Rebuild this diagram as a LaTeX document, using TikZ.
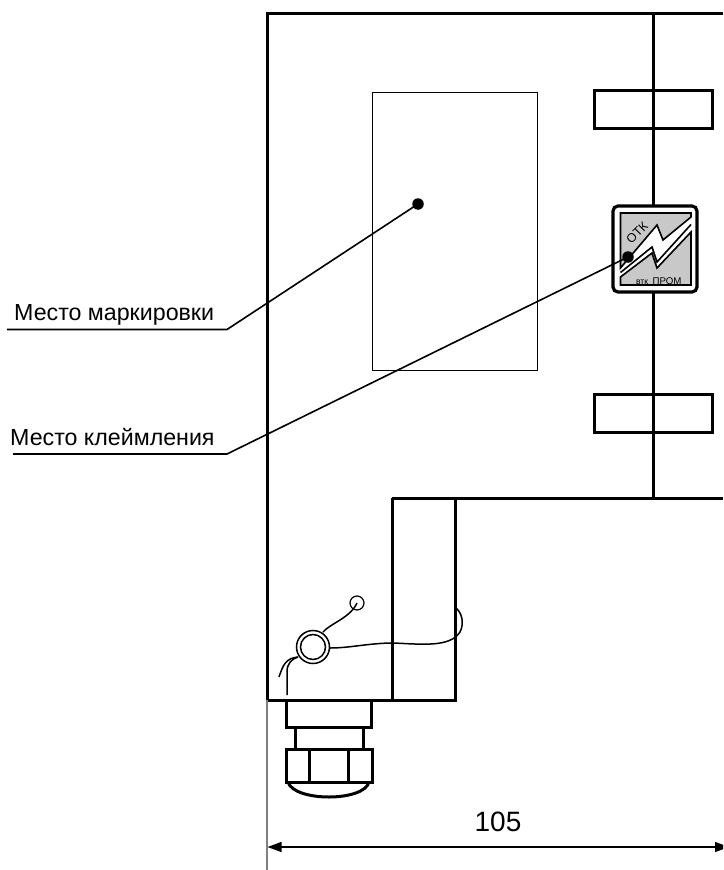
\documentclass[tikz,border=0pt]{standalone}
\usepackage{fontspec}
\setmainfont{Liberation Sans}
\usetikzlibrary{arrows.meta}
\definecolor{extgray}{HTML}{808080}
\definecolor{stampgray}{HTML}{C8C8C8}
\tikzset{
  thick line/.style={draw=black,line width=3pt,line join=miter},
  thin frame/.style={draw=black,line width=0.8pt},
  leader/.style={draw=black,line width=1.6pt},
  wire/.style={draw=black,line width=1.5pt},
  extension/.style={draw=extgray,line width=1.6pt},
  dim/.style={draw=black,line width=1.2pt,{Stealth[length=14pt,width=10pt,inset=0pt]}-{Stealth[length=14pt,width=10pt,inset=0pt]}},
  dotmark/.style={circle,fill=black,inner sep=0pt,minimum size=11.5pt},
  labeltext/.style={anchor=base west,inner sep=0pt,font=\fontsize{23.2}{27}\selectfont},
  stampedge/.style={draw=black,line width=1.6pt,line join=miter},
}
\begin{document}
\begin{tikzpicture}[x=1pt,y=-1pt]
\useasboundingbox (0,0) rectangle (723,870);
\clip (0,0) rectangle (723,870);
\fill[white] (0,0) rectangle (723,870);
% body
\draw[thick line] (723,13) -- (267,13) -- (267,700) -- (455,700) -- (455,498);
\draw[thick line] (653,13) -- (653,498);
\draw[thick line] (392,700) -- (392,498);
\draw[thick line] (392,498) -- (723,498);
% marking area
\draw[thin frame] (372,92) rectangle (537,370);
% brackets
\draw[thick line] (594,90) rectangle (712,128);
\draw[thick line] (594,394) rectangle (712,432);
% stamp
\draw[draw=black,line width=3.2pt,fill=white,rounded corners=5pt] (613,206) rectangle (697,292);
\path[stampedge,fill=stampgray] (620.5,213) -- (691,213) -- (691,217) -- (663,240) -- (657,225) -- (620.5,268) -- cycle;
\path[stampedge,fill=stampgray] (691,232) -- (691,285) -- (620.5,285) -- (620.5,277) -- (652,253) -- (657,268) -- cycle;
\draw[stampedge] (620.5,272.5) -- (652,247) -- (657,262) -- (691,224.5);
\node[inner sep=0pt,rotate=45,font=\fontsize{12.5}{14}\selectfont] (otk) at (637,233) {ОТК};
\node[inner sep=0pt,font=\fontsize{8.5}{10}\selectfont] (vtk) at (642,282) {втк};
\node[inner sep=0pt,font=\fontsize{9.7}{11}\selectfont] (prom) at (667,281) {ПРОМ};
% gland
\draw[thick line] (286,700) rectangle (371,727);
\draw[thick line] (295,727) rectangle (363,749);
\draw[thick line] (286,749) rectangle (372,782);
\draw[thick line] (309,749) -- (309,782);
\draw[thick line] (348,749) -- (348,782);
\draw[thick line] (288,782) .. controls (294,802) and (364,802) .. (369,782);
% seal
\node[circle,draw=black,line width=1.5pt,fill=white,minimum size=33pt,inner sep=0pt] (ring) at (313,647) {};
\node[circle,draw=black,line width=1.5pt,minimum size=25pt,inner sep=0pt] (ringin) at (313,647) {};
\node[circle,draw=black,line width=1.2pt,minimum size=14pt,inner sep=0pt] (seal) at (357,603) {};
\coordinate (w1) at (357,603);
\coordinate (w2) at (323,632);
\coordinate (w3) at (330,648);
\coordinate (w4) at (456,608);
\coordinate (w5) at (298,657);
\coordinate (w6) at (279,677);
\coordinate (w7) at (287,695);
\draw[wire] (w1) .. controls (350,618) and (331,623) .. (w2);
\draw[wire] (w3) .. controls (350,648) and (370,643) .. (393,643) .. controls (420,644) and (450,648) .. (460,632) .. controls (465,622) and (461,612) .. (w4);
\draw[wire] (w5) .. controls (286,658) and (283,665) .. (w6);
\draw[wire] (w7) -- (287,672) .. controls (287,663) and (292,659) .. (w5);
% extension lines and dimension
\coordinate (extA) at (267,700);
\coordinate (extB) at (267,871);
\coordinate (dimA) at (267.5,847);
\coordinate (dimB) at (729,847);
\draw[extension] (extA) -- (extB);
\draw[dim] (dimA) -- (dimB);
\node[inner sep=0pt,anchor=base,font=\fontsize{28}{32}\selectfont] (dimlabel) at (498,831) {105};
% labels with leaders
\node[labeltext] (lab1) at (14,320) {Место маркировки};
\node[labeltext] (lab2) at (10,445) {Место клеймления};
\node[dotmark] (dot1) at (418,204) {};
\node[dotmark] (dot2) at (628,257) {};
\coordinate (s1) at (7,329.5);
\coordinate (k1) at (227,329.5);
\coordinate (s2) at (13,454);
\coordinate (k2) at (227,454);
\draw[leader] (s1) -- (k1) -- (dot1.center);
\draw[leader] (s2) -- (k2) -- (dot2.center);
\end{tikzpicture}
\end{document}
